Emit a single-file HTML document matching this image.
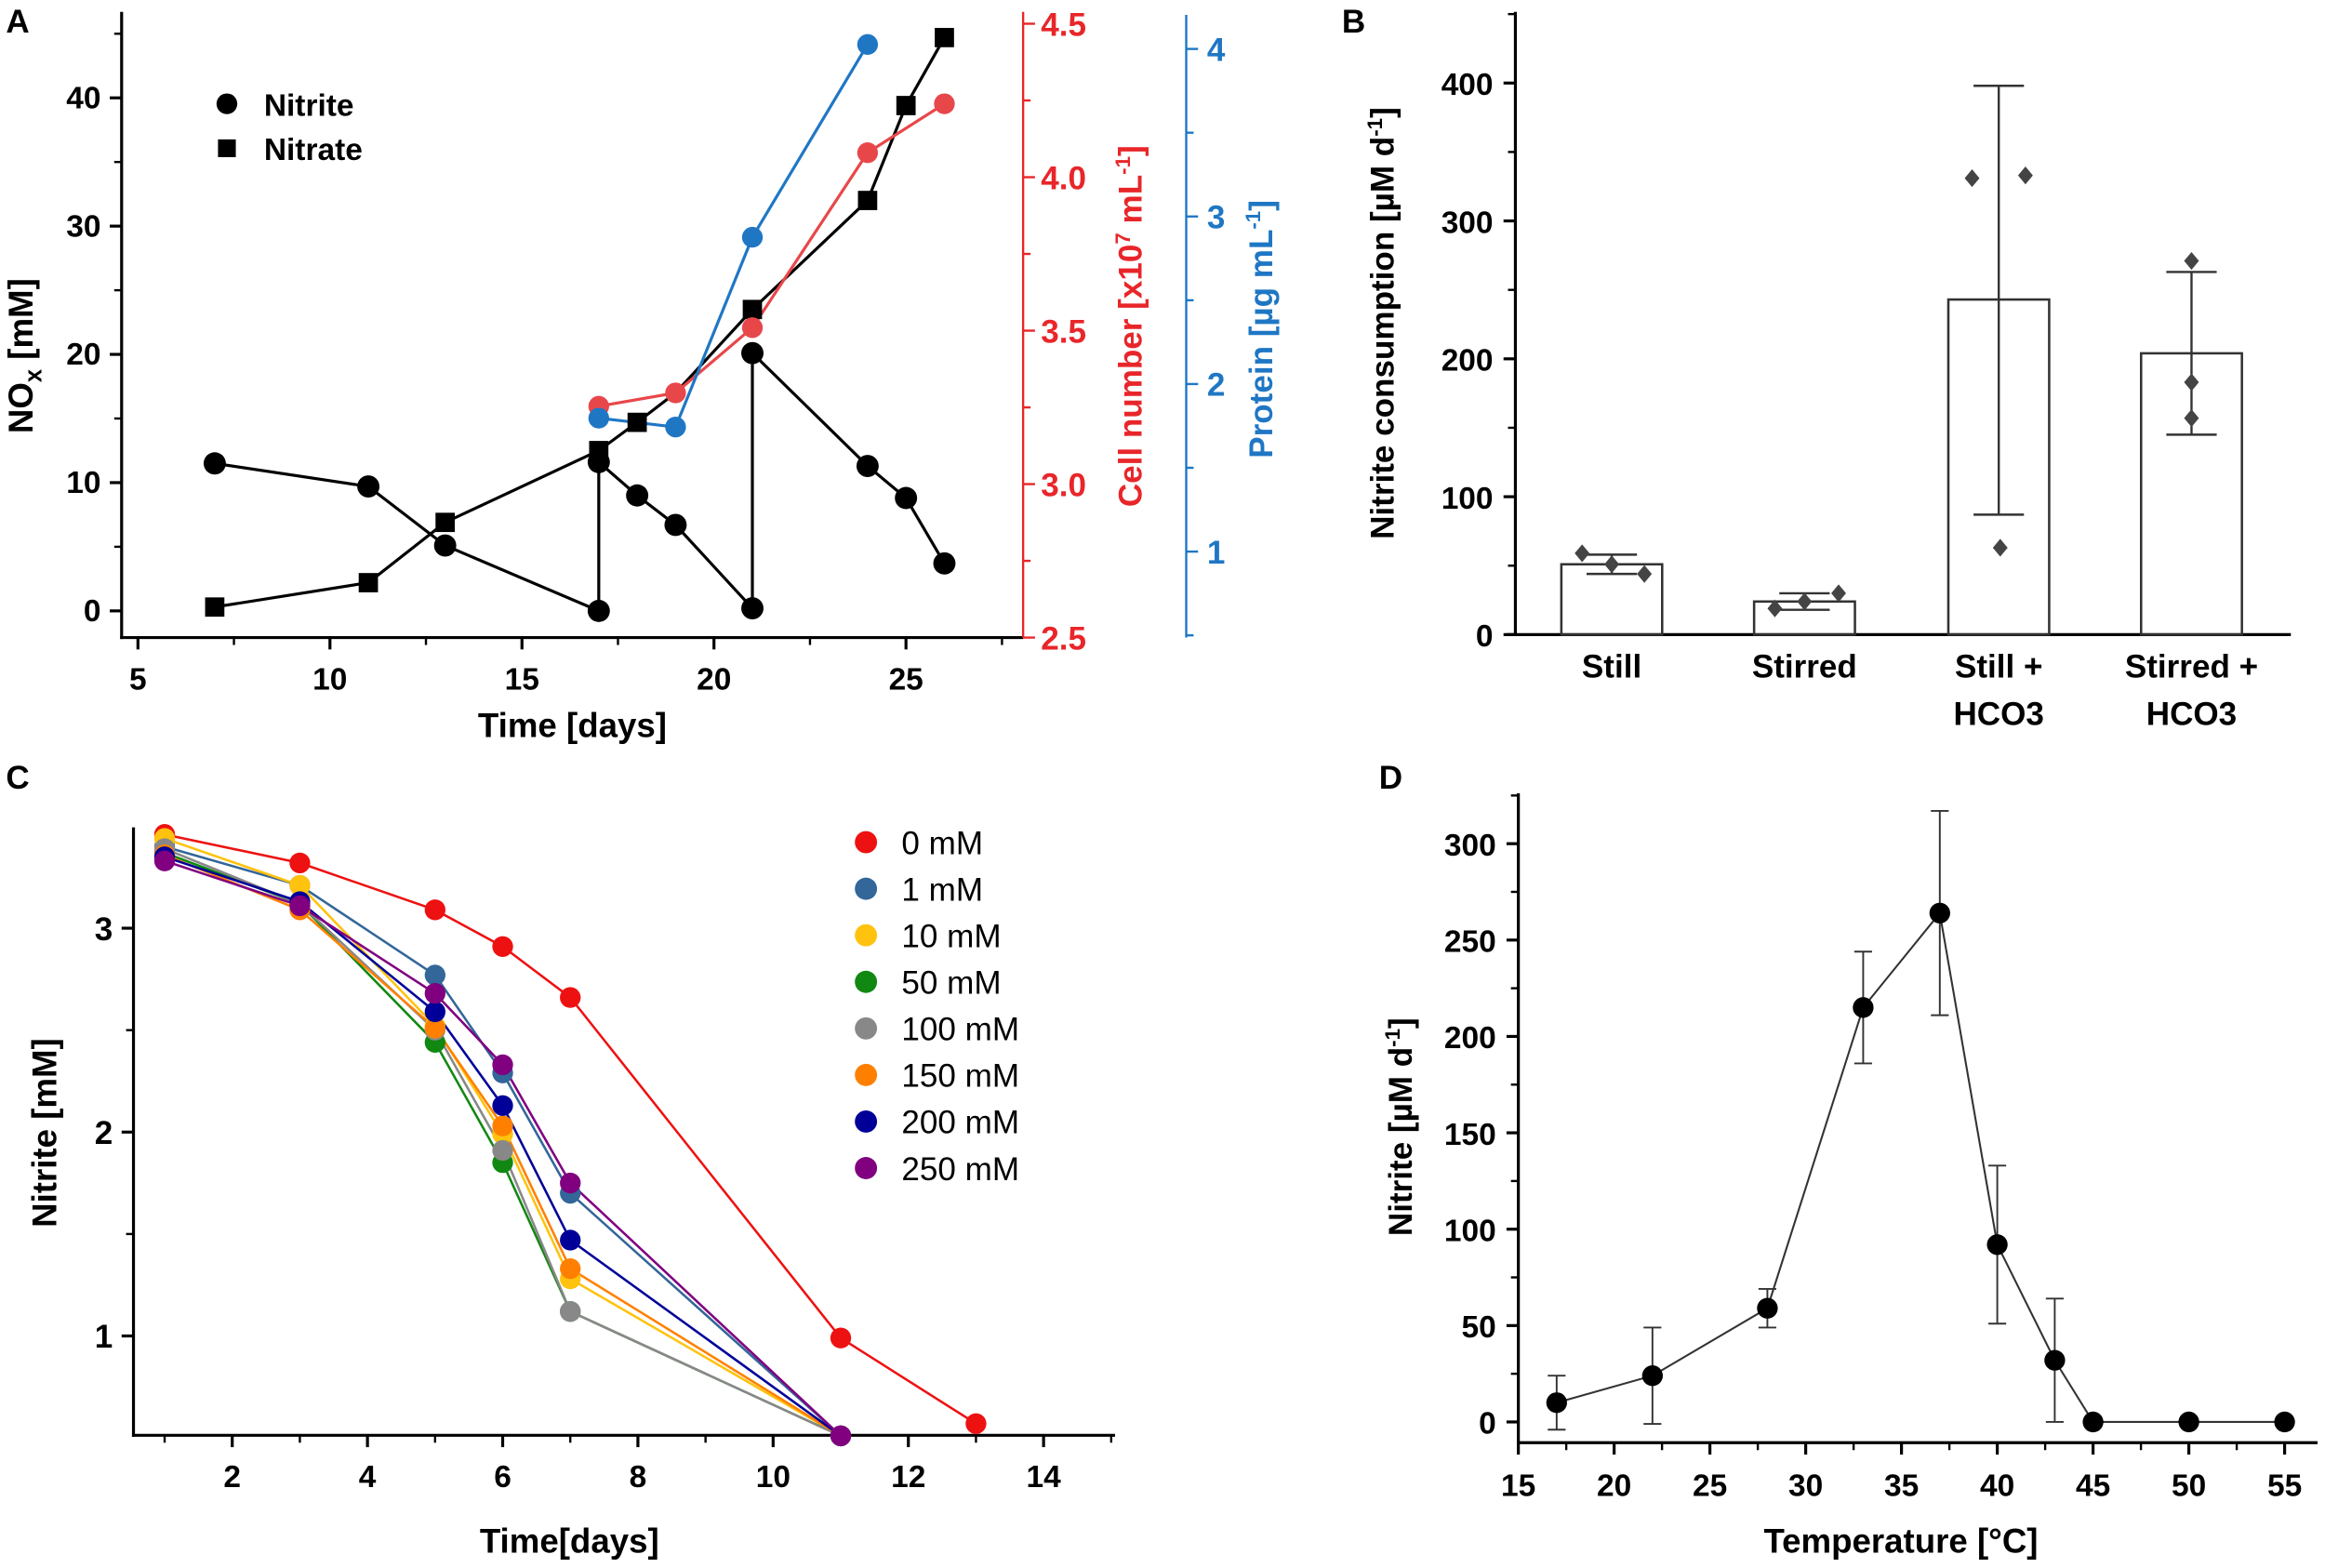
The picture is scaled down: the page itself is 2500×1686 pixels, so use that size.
<!DOCTYPE html>
<html><head><meta charset="utf-8"><style>
html,body{margin:0;padding:0;background:#fff;}
svg{display:block;}
text{font-family:"Liberation Sans",Arial,sans-serif;font-weight:bold;}
</style></head><body>
<svg id="s" width="2500" height="1686" viewBox="0 0 1568 1057.5" xmlns="http://www.w3.org/2000/svg"></svg>
<script>
const S=document.getElementById('s');let h='';
function L(x1,y1,x2,y2,c='#000',w=2){h+=`<line x1="${x1}" y1="${y1}" x2="${x2}" y2="${y2}" stroke="${c}" stroke-width="${w}"/>`;}
function T(x,y,t,o={}){h+=`<text x="${x}" y="${y}" font-size="${o.s||21}" fill="${o.c||'#000'}" text-anchor="${o.a||'middle'}" ${o.r?`transform="rotate(-90 ${x} ${y})"`:''} ${o.n?'font-weight="normal" style="font-weight:normal"':''}>${t}</text>`;}
function C(x,y,r,c){h+=`<circle cx="${x}" cy="${y}" r="${r}" fill="${c}"/>`;}
function Q(x,y,r,c){h+=`<rect x="${x-r}" y="${y-r}" width="${2*r}" height="${2*r}" fill="${c}"/>`;}
function P(pts,c,w=2){h+=`<polyline points="${pts.map(p=>p.join(',')).join(' ')}" fill="none" stroke="${c}" stroke-width="${w}"/>`;}
// ---------- Panel A
T(4,22,'A',{a:'start',s:22});
const ax=d=>93+(d-5)*25.9, ay=v=>412-v*8.65;
L(82,8,82,431);L(81,430,690,430);
for(let v=0;v<=40;v+=10){L(82,ay(v),74,ay(v));T(68,ay(v)+7,v,{a:'end'});}
for(let v=5;v<=45;v+=10)L(82,ay(v),77,ay(v),'#000',1.5);
for(let d=5;d<=25;d+=5){L(ax(d),430,ax(d),438);T(ax(d),465,d);}
for(let d=7.5;d<=27.5;d+=5)L(ax(d),430,ax(d),435,'#000',1.5);
T(386,497,'Time [days]',{s:23});
h+=`<text x="22" y="240" font-size="23" text-anchor="middle" transform="rotate(-90 22 240)">NO<tspan font-size="16" dy="6">x</tspan><tspan dy="-6"> [mM]</tspan></text>`;
const ry=v=>430-(v-2.5)*207;
L(690,8,690,430,'#e8262a',1.5);
for(let v=2.5;v<=4.51;v+=0.5){L(690,ry(v),698,ry(v),'#e8262a',1.5);T(702,ry(v)+8,v.toFixed(1),{a:'start',c:'#e8262a',s:22});}
for(let v=2.75;v<=4.3;v+=0.5)L(690,ry(v),695,ry(v),'#e8262a',1.5);
h+=`<text x="770" y="220" font-size="22" fill="#e8262a" text-anchor="middle" transform="rotate(-90 770 220)">Cell number [x10<tspan font-size="14" dy="-8">7</tspan><tspan dy="8"> mL</tspan><tspan font-size="14" dy="-8">-1</tspan><tspan dy="8">]</tspan></text>`;
const by=v=>372-(v-1)*113;
L(800,10,800,430,'#1f77c4',1.5);
for(let v=1;v<=4;v++){L(800,by(v),808,by(v),'#1f77c4',1.5);T(814,by(v)+8,v,{a:'start',c:'#1f77c4',s:22});}
for(let v=0.5;v<=4.1;v+=1)L(800,by(v),805,by(v),'#1f77c4',1.5);
h+=`<text x="858" y="222" font-size="22" fill="#1f77c4" text-anchor="middle" transform="rotate(-90 858 222)">Protein [µg mL<tspan font-size="14" dy="-8">-1</tspan><tspan dy="8">]</tspan></text>`;
const nit=[[7,11.5],[11,9.7],[13,5.1],[17,0],[17,11.6],[18,9],[19,6.7],[21,0.2],[21,20.1],[24,11.3],[25,8.8],[26,3.7]];
const nat=[[7,0.3],[11,2.2],[13,6.9],[17,12.5],[18,14.7],[19,17],[21,23.5],[24,32],[25,39.4],[26,44.7]];
P(nit.map(p=>[ax(p[0]),ay(p[1])]),'#000');P(nat.map(p=>[ax(p[0]),ay(p[1])]),'#000');
const red=[[17,274],[19,265],[21,221],[24,103],[26,70]], blu=[[17,282],[19,288],[21,160],[24,30]];
P(red.map(p=>[ax(p[0]),p[1]]),'#e8474a');P(blu.map(p=>[ax(p[0]),p[1]]),'#1f77c4');
nat.filter(p=>p[0]!=19).forEach(p=>Q(ax(p[0]),ay(p[1]),6.5,'#000'));
nit.forEach(p=>C(ax(p[0]),ay(p[1]),7.5,'#000'));
red.forEach(p=>C(ax(p[0]),p[1],7,'#e8474a'));blu.forEach(p=>C(ax(p[0]),p[1],7,'#1f77c4'));
C(153,70,7,'#000');T(178,78,'Nitrite',{a:'start'});Q(153,100,6,'#000');T(178,108,'Nitrate',{a:'start'});
// ---------- Panel B
T(905,22,'B',{a:'start',s:22});
const byy=v=>428-v*0.93;
L(1022,8,1022,429);L(1016,428,1545,428);
for(let v=0;v<=400;v+=100){L(1022,byy(v),1014,byy(v));T(1007,byy(v)+8,v,{a:'end'});}
for(let v=50;v<=450;v+=100)L(1022,byy(v),1017,byy(v),'#000',1.5);
h+=`<text x="940" y="218" font-size="22" text-anchor="middle" transform="rotate(-90 940 218)">Nitrite consumption [µM d<tspan font-size="14" dy="-8">-1</tspan><tspan dy="8">]</tspan></text>`;
const bars=[[1087,51,44,58,[[1067,59],[1087,51],[1109,44]],['Still']],[1217,24,18,30,[[1197,19],[1217,24],[1240,30]],['Stirred']],[1348,243,87,398,[[1330,331],[1349,63],[1366,333]],['Still +','HCO3']],[1478,204,145,263,[[1478,271],[1478,183],[1478,157]],['Stirred +','HCO3']]];
bars.forEach(b=>{const [x,v,lo,hi,pts,lab]=b;
h+=`<rect x="${x-34}" y="${byy(v)}" width="68" height="${428-byy(v)}" fill="none" stroke="#333" stroke-width="1.6"/>`;
L(x,byy(lo),x,byy(hi),'#333',1.5);L(x-17,byy(lo),x+17,byy(lo),'#333',1.5);L(x-17,byy(hi),x+17,byy(hi),'#333',1.5);
pts.forEach(p=>{const y=byy(p[1]);h+=`<polygon points="${p[0]},${y-6} ${p[0]+5},${y} ${p[0]},${y+6} ${p[0]-5},${y}" fill="#444"/>`;});
lab.forEach((t,i)=>T(x,457+i*32,t,{s:22}));});
// ---------- Panel C
T(4,532,'C',{a:'start',s:22});
const cx=d=>111+(d-1)*45.6, cy=v=>901-(v-1)*137.5;
L(90,558,90,969);L(89,968,752,968);
[1,2,3].forEach(v=>{L(90,cy(v),82,cy(v));T(76,cy(v)+8,v,{a:'end',s:22});});
[1.5,2.5].forEach(v=>L(90,cy(v),85,cy(v),'#000',1.5));
for(let d=2;d<=14;d+=2){L(cx(d),968,cx(d),976);T(cx(d),1003,d);}
for(let d=1;d<=15;d+=2)L(cx(d),968,cx(d),973,'#000',1.5);
T(384,1047,'Time[days]',{s:23});T(38,764,'Nitrite [mM]',{r:1,s:23});
const days=[1,3,5,6,7,11];
const ser=[
['0 mM','#ee1111',[3.46,3.32,3.09,2.91,2.66,0.99],1],
['1 mM','#336699',[3.40,3.21,2.77,2.29,1.70,0.51]],
['10 mM','#ffc20e',[3.44,3.21,2.52,1.99,1.28,0.51]],
['50 mM','#118811',[3.37,3.12,2.44,1.85,1.12,0.51]],
['100 mM','#888888',[3.39,3.12,2.50,1.91,1.12,0.51]],
['150 mM','#ff8000',[3.36,3.09,2.51,2.03,1.33,0.51]],
['200 mM','#000099',[3.35,3.13,2.59,2.13,1.47,0.51]],
['250 mM','#800080',[3.33,3.11,2.68,2.33,1.75,0.51]]];
ser.forEach(s=>{let pts=days.map((d,i)=>[cx(d),cy(s[2][i])]);if(s[3])pts.push([cx(13),cy(0.57)]);P(pts,s[1],1.6);});
ser.forEach((s,k)=>{let pts=days.map((d,i)=>[cx(d),cy(s[2][i])]);if(s[3])pts.push([cx(13),cy(0.57)]);pts.forEach(p=>C(p[0],p[1],7,s[1]));
C(584,568+k*31.4,7.5,s[1]);T(608,576+k*31.4,s[0],{a:'start',n:1,s:22});});
// ---------- Panel D
T(930,532,'D',{a:'start',s:22});
const dx=t=>1024+(t-15)*12.92, dy=v=>959-v*1.3;
L(1024,535,1024,974);L(1023,973,1563,973);
for(let v=0;v<=300;v+=50){L(1024,dy(v),1016,dy(v));T(1009,dy(v)+8,v,{a:'end'});}
for(let v=25;v<=325;v+=50)L(1024,dy(v),1019,dy(v),'#000',1.5);
for(let t=15;t<=55;t+=5){L(dx(t),973,dx(t),981);T(dx(t),1009,t);}
for(let t=17.5;t<=57;t+=5)L(dx(t),973,dx(t),978,'#000',1.5);
T(1282,1047,'Temperature [°C]',{s:23});
h+=`<text x="952" y="760" font-size="22" text-anchor="middle" transform="rotate(-90 952 760)">Nitrite [µM d<tspan font-size="14" dy="-8">-1</tspan><tspan dy="8">]</tspan></text>`;
const dd=[[17,10,14],[22,24,25],[28,59,10],[33,215,29],[37,264,53],[40,92,41],[43,32,32],[45,0,0],[50,0,0],[55,0,0]];
P(dd.map(p=>[dx(p[0]),dy(p[1])]),'#333',1.3);
dd.forEach(p=>{if(p[2]){const x=dx(p[0]);L(x,dy(p[1]-p[2]),x,dy(p[1]+p[2]),'#333',1.2);L(x-6,dy(p[1]-p[2]),x+6,dy(p[1]-p[2]),'#333',1.2);L(x-6,dy(p[1]+p[2]),x+6,dy(p[1]+p[2]),'#333',1.2);}C(dx(p[0]),dy(p[1]),7,'#000');});
S.innerHTML=h;
</script>
</body></html>
